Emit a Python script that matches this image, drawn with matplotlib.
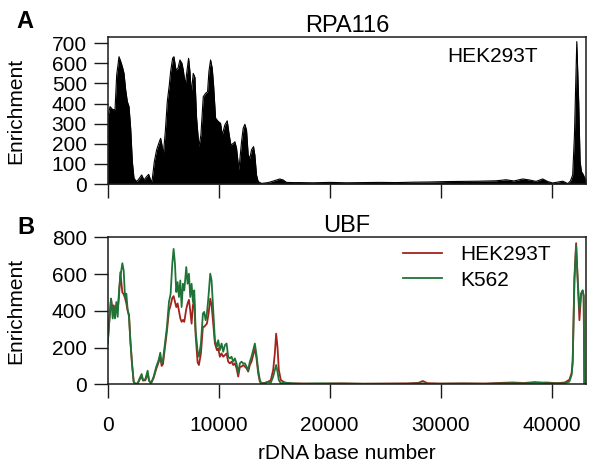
import matplotlib
matplotlib.use("Agg")
import matplotlib.pyplot as plt
import numpy as np

plt.rcParams['font.family'] = ['Liberation Sans', 'DejaVu Sans']

# ---------------- data ----------------
rpa_x = [0, 210, 450, 660, 810, 1020, 1170, 1320, 1470, 1620, 1770, 1920, 2070, 2220, 2370,
         2610, 2850, 3060, 3270, 3510, 3690, 3870, 3990, 4200, 4410, 4650, 4770, 4890, 5010,
         5190, 5370, 5550, 5670, 5850, 5970, 6150, 6330, 6510, 6690, 6810, 6990, 7170, 7290,
         7410, 7530, 7710, 7860, 8010, 8220, 8400, 8610, 8820, 9000, 9120, 9270, 9420, 9540,
         9720, 9960, 10170, 10320, 10560, 10770, 10950, 11100, 11310, 11460, 11610, 11820,
         12060, 12210, 12360, 12510, 12660, 12810, 12960, 13140, 13260, 13410, 13560, 13860,
         14460, 15060, 15510, 15810, 16110, 16710, 17310, 18500, 20000, 21500, 23000, 24500,
         26000, 27500, 29000, 30500, 32000, 33500, 35000, 35900, 36600, 37400, 38000, 38600,
         39200, 39660, 40100, 40600, 41000, 41460, 41700, 41900, 42060, 42210, 42270, 42440,
         42570, 42690, 42870, 42980, 43100]
rpa_hek = [330, 385, 370, 370, 542, 633, 610, 584, 550, 468, 410, 385, 277, 111, 28,
           12, 28, 45, 20, 37, 48, 20, 12, 111, 170, 210, 227, 194, 144,
           260, 410, 492, 559, 625, 633, 567, 575, 617, 600, 567, 492, 575, 625,
           559, 451, 550, 530, 328, 186, 244, 434, 451, 459, 559, 617, 575, 492,
           328, 311, 302, 244, 294, 314, 244, 194, 202, 210, 178, 70,
           210, 277, 297, 268, 144, 128, 170, 186, 144, 45, 12, 3,
           7, 17, 25, 20, 8, 7, 7, 6, 8, 6, 7, 8,
           7, 9, 10, 12, 13, 14, 16, 21, 15, 25, 20, 13,
           25, 12, 5, 10, 14, 2, 15, 45, 244, 577, 708, 410,
           111, 62, 45, 30, 25]

ubf_x = [0, 150, 300, 450, 540, 660, 780, 900, 1020, 1140, 1320, 1440, 1560, 1680, 1800,
         1920, 2040, 2190, 2340, 2490, 2700, 2880, 3060, 3180, 3390, 3600, 3720, 3900, 4140,
         4380, 4590, 4740, 4860, 4980, 5160, 5340, 5520, 5670, 5820, 5940, 6060, 6180, 6300,
         6420, 6540, 6660, 6780, 6900, 7080, 7200, 7320, 7440, 7560, 7680, 7800, 7920, 8100,
         8220, 8400, 8580, 8700, 8820, 8940, 9090, 9240, 9360, 9510, 9660, 9840, 9960, 10110,
         10260, 10410, 10560, 10710, 10860, 11010, 11160, 11310, 11460, 11610, 11760, 11910,
         12060, 12210, 12360, 12510, 12660, 12810, 12960, 13110, 13260, 13410, 13560, 13710,
         13860, 14160, 14460, 14700, 14910, 15060, 15180, 15300, 15420, 15600, 15960, 16560,
         17500, 19000, 21000, 23000, 25000, 27000, 28000, 28400, 28800, 30000, 32000, 34000,
         35500, 36500, 37500, 38500, 39000, 39500, 40500, 41200, 41600, 41800, 41900, 42057,
         42210, 42354, 42507, 42660, 42800, 42890, 42950]
ubf_hek = [222, 349, 466, 400, 430, 400, 430, 410, 480, 610, 500, 490, 470, 440, 400,
           380, 240, 110, 14, 2, 5, 25, 45, 20, 22, 60, 20, 5, 35,
           85, 120, 150, 100, 110, 200, 290, 400, 430, 470, 480, 450, 420, 440,
           400, 360, 340, 350, 340, 410, 440, 460, 400, 330, 430, 460, 270, 120,
           105, 168, 313, 313, 322, 330, 385, 466, 430, 330, 222, 186, 195, 150,
           168, 150, 159, 168, 123, 114, 123, 105, 114, 87, 42, 96,
           96, 105, 96, 87, 69, 105, 123, 159, 195, 141, 60, 14,
           5, 8, 14, 23, 78, 168, 276, 204, 78, 23, 9, 5,
           4, 3, 5, 3, 4, 5, 8, 18, 6, 4, 5, 4,
           8, 10, 7, 12, 8, 10, 6, 10, 25, 60, 130, 580,
           768, 565, 349, 493, 511, 480, 0]
ubf_k562 = [222, 349, 466, 358, 421, 358, 448, 367, 511, 584, 659, 620, 475, 493, 403,
            367, 240, 114, 14, 2, 5, 33, 56, 23, 27, 74, 23, 5, 42,
            96, 132, 172, 114, 132, 222, 313, 448, 493, 656, 737, 656, 502, 556,
            475, 565, 421, 547, 511, 638, 547, 602, 475, 547, 448, 511, 294, 180,
            150, 222, 385, 394, 349, 385, 484, 602, 565, 403, 240, 204, 240, 186,
            222, 177, 213, 222, 150, 141, 150, 123, 141, 114, 60, 114,
            123, 114, 114, 96, 78, 123, 150, 186, 222, 159, 78, 23,
            5, 5, 14, 9, 42, 78, 105, 69, 23, 5, 9, 5,
            3, 5, 4, 3, 3, 3, 4, 5, 3, 3, 4, 3,
            5, 6, 5, 8, 10, 6, 5, 5, 15, 50, 114, 565,
            755, 565, 403, 493, 511, 480, 0]

xticks = [0, 10000, 20000, 30000, 40000]
rpa_yticks = [0, 100, 200, 300, 400, 500, 600, 700]
ubf_yticks = [0, 200, 400, 600, 800]

# ---------------- figure ----------------
W, H = 591, 465
fig = plt.figure(figsize=(W / 100, H / 100), dpi=100)

def px_rect(l, t, r, b):
    return [l / W, 1 - b / H, (r - l) / W, (b - t) / H]

ax1 = fig.add_axes(px_rect(107.7, 37, 586, 184))
ax2 = fig.add_axes(px_rect(107.7, 237.3, 586, 384.3))

FS = 15
spine_c = '#1a1a1a'

for ax in (ax1, ax2):
    ax.set_xlim(0, 43100)
    for s in ax.spines.values():
        s.set_color(spine_c)
        s.set_linewidth(1.1)
    ax.set_xticks(xticks)
    ax.tick_params(axis='both', direction='out', length=10, width=1.0,
                   color=spine_c, labelsize=FS)
    ax.tick_params(axis='y', pad=5)
    ax.tick_params(axis='x', pad=13)
    ax.set_ylabel('Enrichment', fontsize=FS)
    ax.yaxis.set_label_coords(-0.173, 0.5)

# top panel
ax1.fill_between(rpa_x, 0, rpa_hek, color='black', linewidth=0)
ax1.plot(rpa_x, rpa_hek, color='black', lw=0.8)
ax1.set_ylim(0, 731)
ax1.set_yticks(rpa_yticks)
ax1.tick_params(axis='x', labelbottom=False)
ax1.set_title('RPA116', fontsize=17, pad=3)
ax1.text(0.8045, 0.867, 'HEK293T', transform=ax1.transAxes, ha='center', va='center',
         fontsize=FS)

# bottom panel
ax2.plot(ubf_x, ubf_hek, color='#A3231C', lw=1.3, label='HEK293T')
ax2.plot(ubf_x, ubf_k562, color='#1F7337', lw=1.3, label='K562')
ax2.set_ylim(0, 800)
ax2.set_yticks(ubf_yticks)
ax2.set_title('UBF', fontsize=17, pad=3)
ax2.set_xlabel('rDNA base number', fontsize=FS)
ax2.xaxis.set_label_coords(0.5, -0.405)
ax2.legend(loc='upper left', bbox_to_anchor=(0.617, 0.945), frameon=False,
           fontsize=FS, handlelength=1.9, handletextpad=0.85, borderpad=0,
           borderaxespad=0, labelspacing=0.3)

fig.text(25 / W, 1 - 21.5 / H, 'A', fontsize=17, fontweight='bold', ha='center', va='center')
fig.text(25.5 / W, 1 - 227.5 / H, 'B', fontsize=17, fontweight='bold', ha='center', va='center')

fig.savefig('out.png', dpi=100)
